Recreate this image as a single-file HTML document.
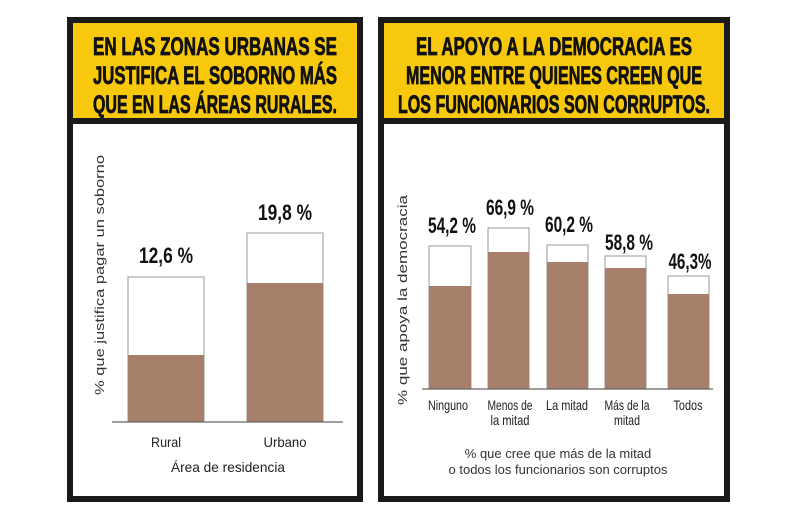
<!DOCTYPE html>
<html><head><meta charset="utf-8"><style>
html,body{margin:0;padding:0;background:#fff;}
svg{display:block;}
.h{font-family:"Liberation Sans Narrow","Liberation Sans",sans-serif;font-weight:bold;font-size:25px;fill:#111;stroke:#111;stroke-width:0.8;text-anchor:middle;}
.v{font-family:"Liberation Sans",sans-serif;font-weight:bold;font-size:22px;fill:#111;text-anchor:middle;}
.l{font-family:"Liberation Sans",sans-serif;font-size:14px;fill:#222;text-anchor:middle;}
.a{font-family:"Liberation Sans",sans-serif;font-size:13px;fill:#333;text-anchor:middle;}
</style></head><body>
<svg width="800" height="520" viewBox="0 0 800 520">
<rect width="800" height="520" fill="#fff"/>
<rect x="70" y="20" width="290" height="479" fill="#fff" stroke="#1a1a1a" stroke-width="6"/>
<rect x="73" y="23" width="284" height="97" fill="#f7c80c"/>
<rect x="73" y="118" width="284" height="6" fill="#1a1a1a"/>
<text class="h" x="215" y="55" textLength="244" lengthAdjust="spacingAndGlyphs">EN LAS ZONAS URBANAS SE</text>
<text class="h" x="215" y="84" textLength="244" lengthAdjust="spacingAndGlyphs">JUSTIFICA EL SOBORNO MÁS</text>
<text class="h" x="215" y="113" textLength="244" lengthAdjust="spacingAndGlyphs">QUE EN LAS ÁREAS RURALES.</text>
<rect x="128" y="277" width="76" height="145" fill="#fff" stroke="#999" stroke-width="1"/>
<rect x="128" y="355" width="76" height="67" fill="#a57f69"/>
<rect x="247" y="233" width="76" height="189" fill="#fff" stroke="#999" stroke-width="1"/>
<rect x="247" y="283" width="76" height="139" fill="#a57f69"/>
<line x1="112" y1="422" x2="343" y2="422" stroke="#666" stroke-width="1.2"/>
<text class="v" x="166" y="263" textLength="54" lengthAdjust="spacingAndGlyphs">12,6 %</text>
<text class="v" x="285" y="220" textLength="54" lengthAdjust="spacingAndGlyphs">19,8 %</text>
<text class="l" x="166" y="447" textLength="30" lengthAdjust="spacingAndGlyphs">Rural</text>
<text class="l" x="285" y="447" textLength="43" lengthAdjust="spacingAndGlyphs">Urbano</text>
<text class="l" x="228" y="472" textLength="114" lengthAdjust="spacingAndGlyphs">Área de residencia</text>
<text class="a" transform="translate(104,275) rotate(-90)" textLength="240" lengthAdjust="spacingAndGlyphs">% que justifica pagar un soborno</text>
<rect x="381" y="20" width="346" height="479" fill="#fff" stroke="#1a1a1a" stroke-width="6"/>
<rect x="384" y="23" width="340" height="97" fill="#f7c80c"/>
<rect x="384" y="118" width="340" height="6" fill="#1a1a1a"/>
<text class="h" x="554" y="55" textLength="276" lengthAdjust="spacingAndGlyphs">EL APOYO A LA DEMOCRACIA ES</text>
<text class="h" x="554" y="84" textLength="296" lengthAdjust="spacingAndGlyphs">MENOR ENTRE QUIENES CREEN QUE</text>
<text class="h" x="554" y="113" textLength="312" lengthAdjust="spacingAndGlyphs">LOS FUNCIONARIOS SON CORRUPTOS.</text>
<g stroke="#999" stroke-width="1" fill="#fff">
<rect x="429" y="246" width="42" height="143"/>
<rect x="488" y="228" width="41" height="161"/>
<rect x="547" y="245" width="41" height="144"/>
<rect x="605" y="256" width="41" height="133"/>
<rect x="668" y="276" width="41" height="113"/>
</g>
<g fill="#a57f69">
<rect x="429" y="286" width="42" height="103"/>
<rect x="488" y="252" width="41" height="137"/>
<rect x="547" y="262" width="41" height="127"/>
<rect x="605" y="268" width="41" height="121"/>
<rect x="668" y="294" width="41" height="95"/>
</g>
<line x1="422" y1="389" x2="713" y2="389" stroke="#666" stroke-width="1.2"/>
<text class="v" x="452" y="233" textLength="48" lengthAdjust="spacingAndGlyphs">54,2 %</text>
<text class="v" x="510" y="215" textLength="48" lengthAdjust="spacingAndGlyphs">66,9 %</text>
<text class="v" x="569" y="232" textLength="48" lengthAdjust="spacingAndGlyphs">60,2 %</text>
<text class="v" x="629" y="250" textLength="48" lengthAdjust="spacingAndGlyphs">58,8 %</text>
<text class="v" x="690" y="269" textLength="43" lengthAdjust="spacingAndGlyphs">46,3%</text>
<text class="l" x="448" y="410" textLength="40" lengthAdjust="spacingAndGlyphs">Ninguno</text>
<text class="l" x="510" y="410" textLength="45" lengthAdjust="spacingAndGlyphs">Menos de</text>
<text class="l" x="510" y="425" textLength="39" lengthAdjust="spacingAndGlyphs">la mitad</text>
<text class="l" x="567" y="410" textLength="42" lengthAdjust="spacingAndGlyphs">La mitad</text>
<text class="l" x="627" y="410" textLength="45" lengthAdjust="spacingAndGlyphs">Más de la</text>
<text class="l" x="627" y="425" textLength="26" lengthAdjust="spacingAndGlyphs">mitad</text>
<text class="l" x="688" y="410" textLength="29" lengthAdjust="spacingAndGlyphs">Todos</text>
<text class="a" x="558" y="458">% que cree que más de la mitad</text>
<text class="a" x="558" y="474">o todos los funcionarios son corruptos</text>
<text class="a" transform="translate(407,300) rotate(-90)" textLength="210" lengthAdjust="spacingAndGlyphs">% que apoya la democracia</text>
</svg>
</body></html>
